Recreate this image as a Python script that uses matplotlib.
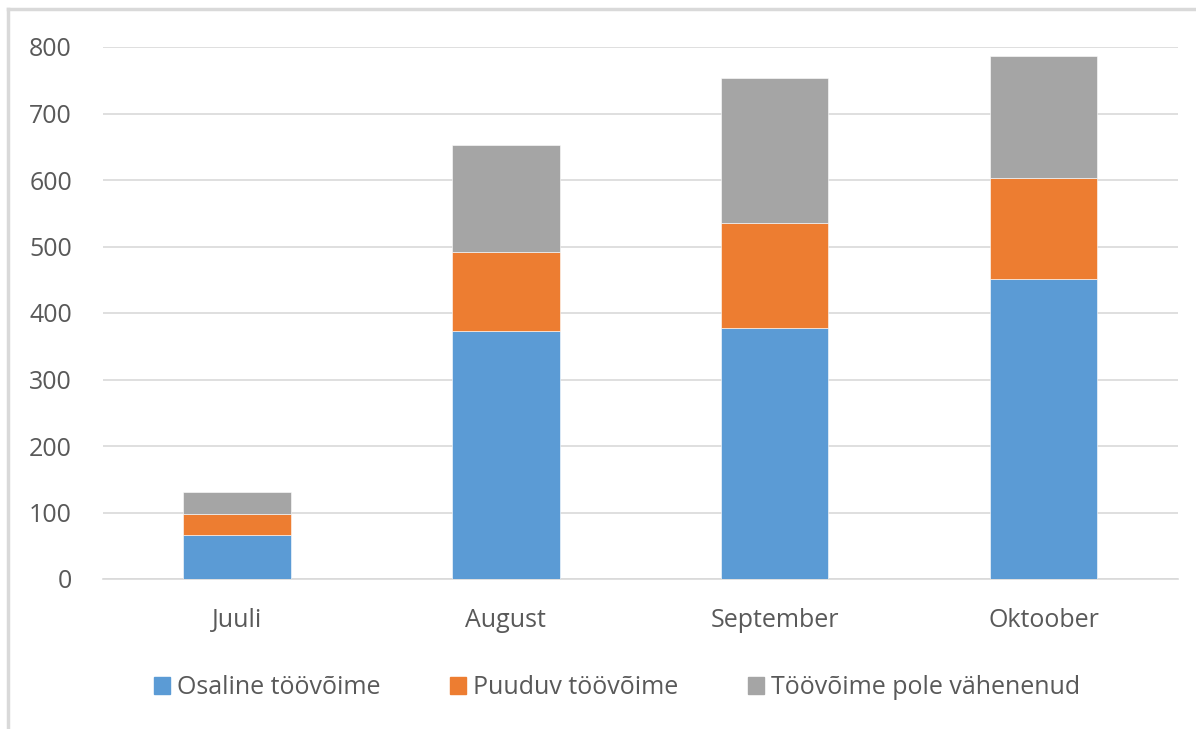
import matplotlib
matplotlib.use("Agg")
import matplotlib.pyplot as plt
from matplotlib.lines import Line2D
import numpy as np

categories = ["Juuli", "August", "September", "Oktoober"]
osaline = [66, 373, 378, 451]
puuduv = [31, 119, 157, 152]
pole_vahenenud = [34, 161, 218, 183]
series_names = ["Osaline töövõime", "Puuduv töövõime", "Töövõime pole vähenenud"]
colors = ["#5B9BD5", "#ED7D31", "#A5A5A5"]
yticks = [0, 100, 200, 300, 400, 500, 600, 700, 800]

plt.rcParams['font.family'] = ['Open Sans', 'DejaVu Sans']

fig = plt.figure(figsize=(11.96, 7.29), dpi=100)
ax = fig.add_axes([102.5/1196, 1 - 579/729, (1178-102.5)/1196, (579-47)/729])

x = np.arange(len(categories))
w = 0.4
ax.bar(x, osaline, w, color=colors[0], edgecolor='white', linewidth=0.4, zorder=3)
bottom2 = np.array(osaline)
ax.bar(x, puuduv, w, bottom=bottom2, color=colors[1], edgecolor='white', linewidth=0.4, zorder=3)
bottom3 = bottom2 + np.array(puuduv)
ax.bar(x, pole_vahenenud, w, bottom=bottom3, color=colors[2], edgecolor='white', linewidth=0.4, zorder=3)

ax.set_xlim(-0.5, len(categories) - 0.5)
ax.set_ylim(0, 800)
ax.set_yticks(yticks)
ax.set_xticks(x)
ax.set_xticklabels(categories)
ax.yaxis.grid(True, color='#D9D9D9', linewidth=1.2, zorder=0)
ax.set_axisbelow(True)
for s in ['top', 'right', 'left']:
    ax.spines[s].set_visible(False)
ax.spines['bottom'].set_color('#D9D9D9')
ax.spines['bottom'].set_linewidth(1.2)
ax.tick_params(axis='both', length=0, labelsize=18, colors='#595959')
ax.tick_params(axis='y', pad=22)
ax.tick_params(axis='x', pad=21)

handles = [plt.Rectangle((0, 0), 1, 1, color=c) for c in colors]
leg = fig.legend(handles, series_names, loc='center', bbox_to_anchor=(617/1196, 1 - 688/729),
                 ncol=3, frameon=False, fontsize=18, handlelength=0.64, handleheight=0.64,
                 handletextpad=0.28, columnspacing=2.8)
for t in leg.get_texts():
    t.set_color('#595959')

# chart area border (top and left visible)
fig.add_artist(Line2D([8/1196, 8/1196], [0, 1 - 9/729], color='#D9D9D9', linewidth=2.5))
fig.add_artist(Line2D([8/1196, 1], [1 - 9/729, 1 - 9/729], color='#D9D9D9', linewidth=2.5))

fig.savefig("out.png", dpi=100)
